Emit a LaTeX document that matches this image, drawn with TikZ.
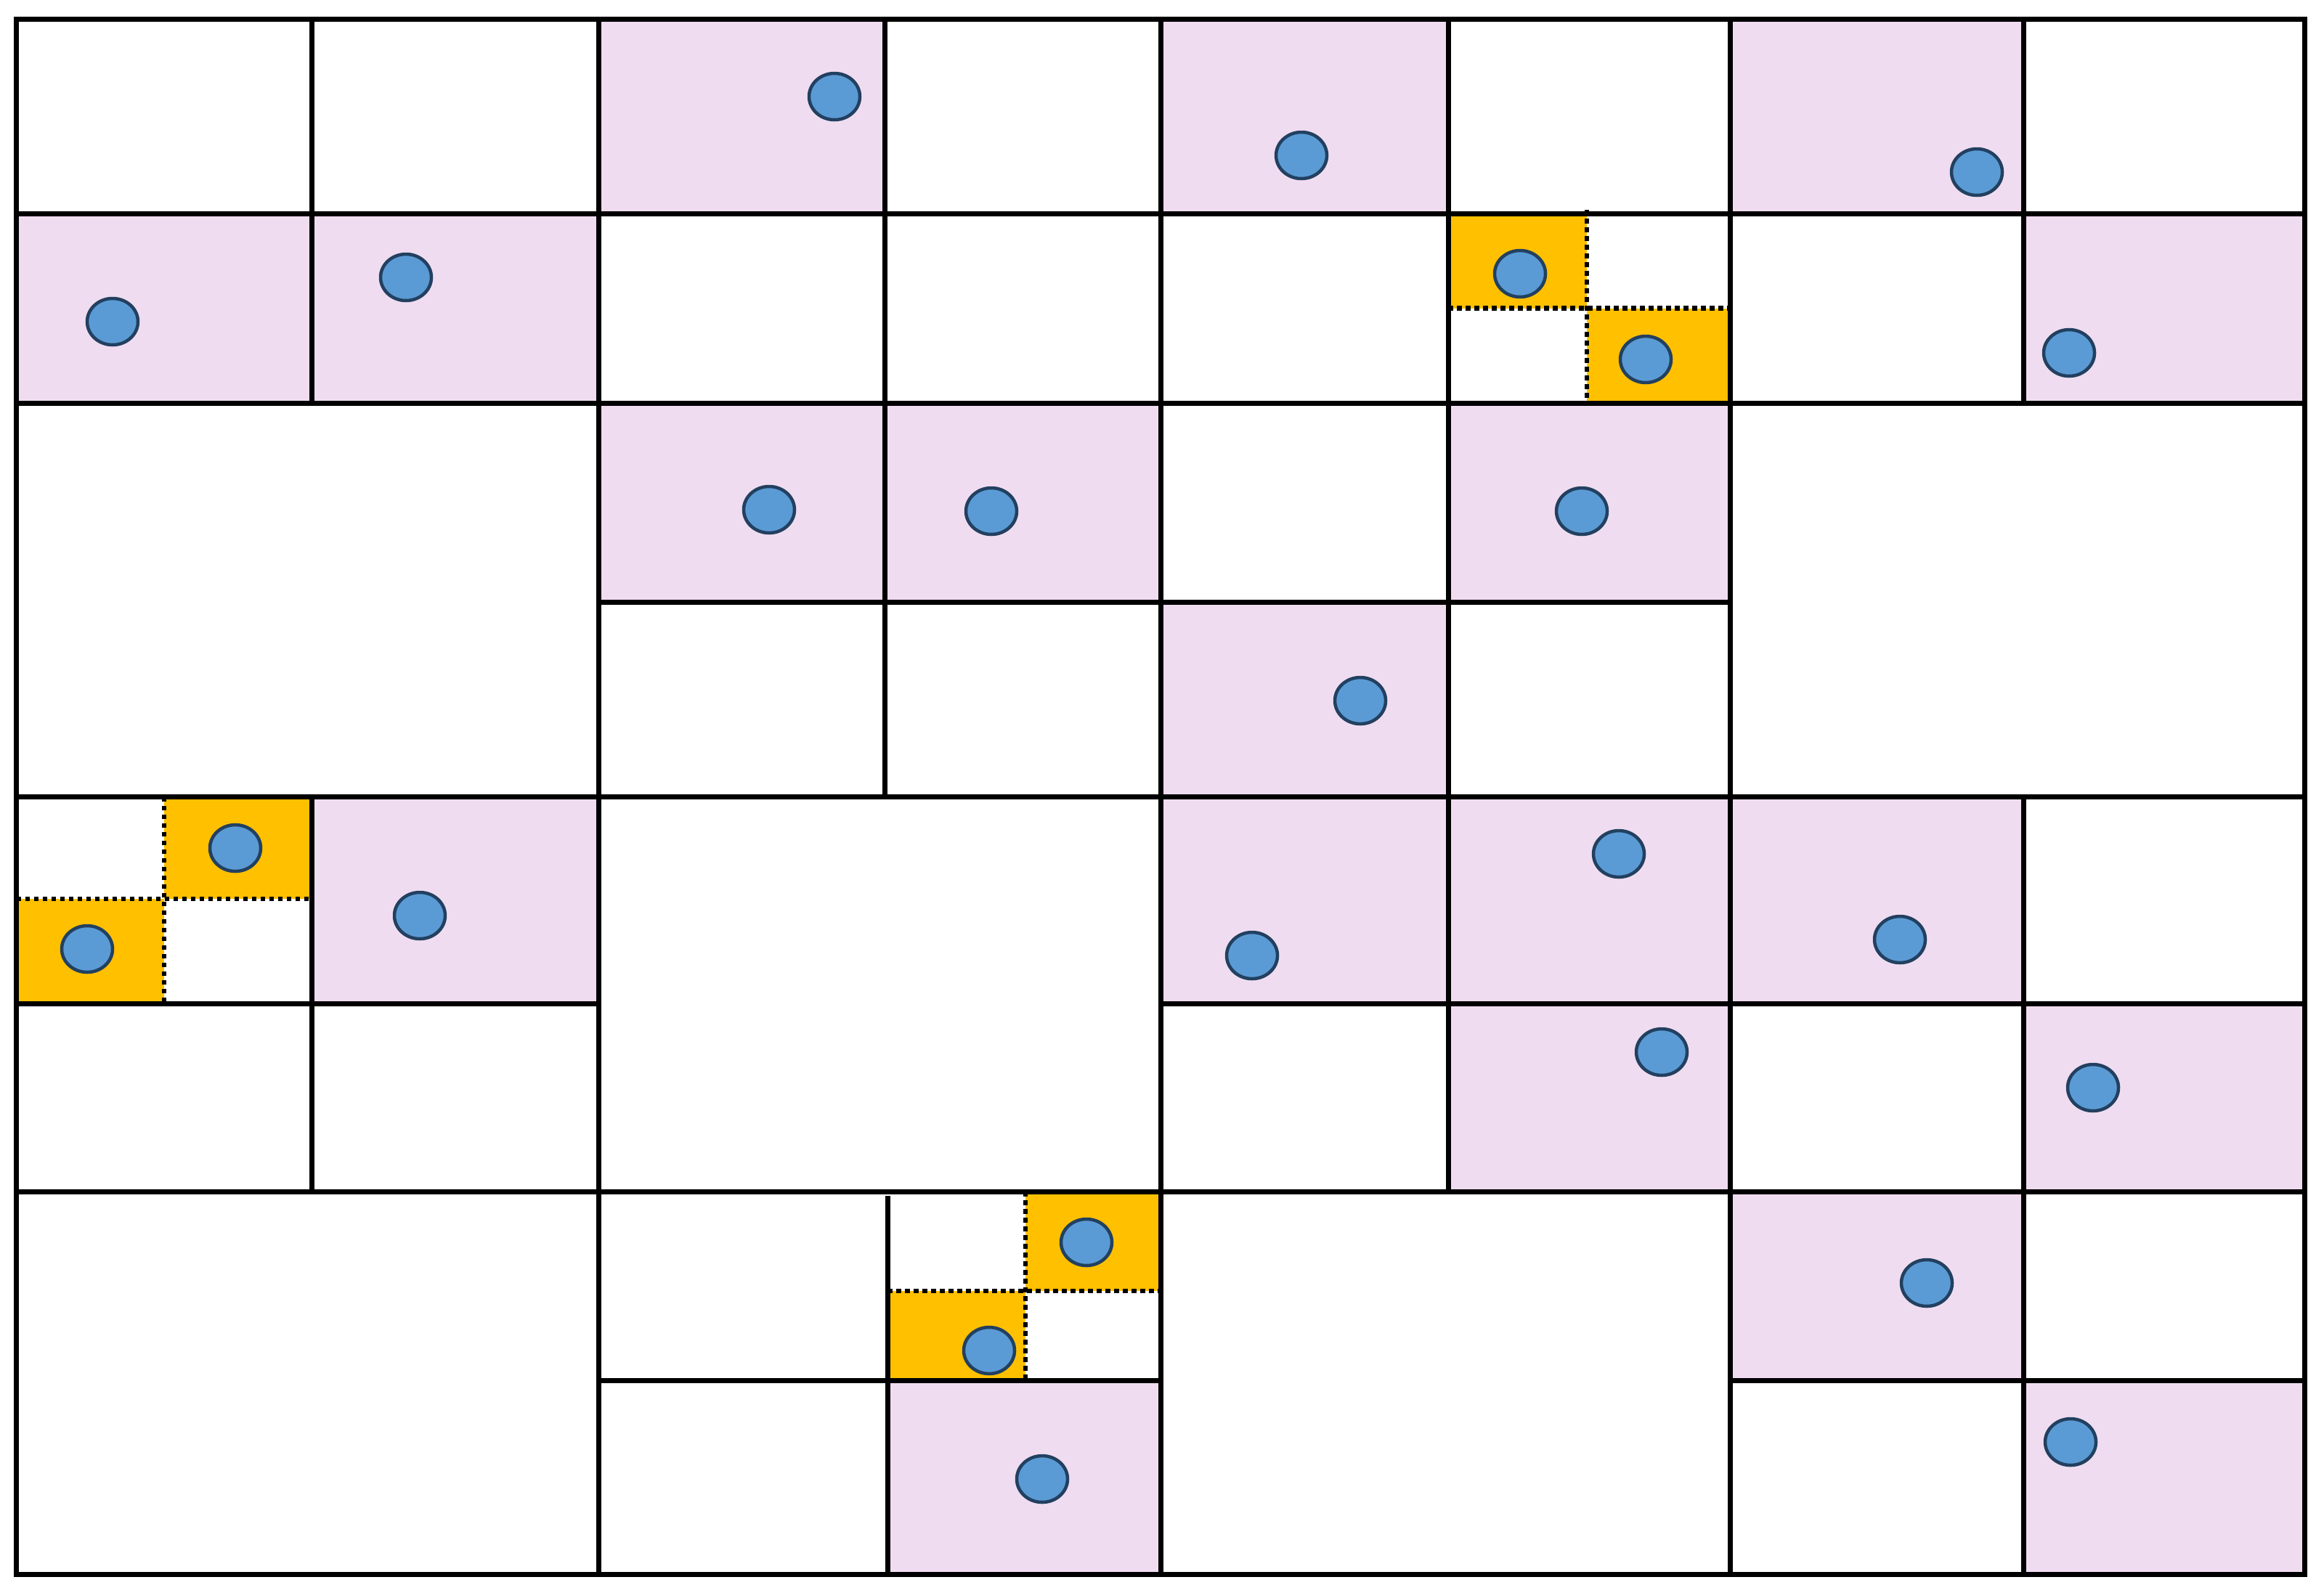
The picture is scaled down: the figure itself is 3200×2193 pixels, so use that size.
\documentclass[tikz,border=0pt]{standalone}
\usetikzlibrary{calc}
\definecolor{cellpink}{RGB}{240,220,240}
\definecolor{cellorange}{RGB}{255,192,0}
\definecolor{dotfill}{RGB}{91,155,213}
\definecolor{dotline}{RGB}{34,64,96}
\tikzset{
  gridline/.style={line width=0.07cm, black, line cap=rect},
  splitline/.style={line width=0.067cm, black, dash pattern=on 0.067cm off 0.053cm},
  pinkcell/.style={fill=cellpink},
  orangecell/.style={fill=cellorange},
  bluedot/.style={fill=dotfill, draw=dotline, line width=0.045cm},
}
\begin{document}
\begin{tikzpicture}[x=0.01cm,y=-0.01cm]
\useasboundingbox (0,0) rectangle (3200,2193);
\fill[white] (0,0) rectangle (3200,2193);
% vertical positions
\def\Va{22.5}\def\Vb{429}\def\Vc{824}\def\Vd{1218}\def\Ve{1598}\def\Vf{1994}\def\Vg{2382}\def\Vh{2786}\def\Vi{3173}
\def\Ha{26.5}\def\Hb{294.5}\def\Hc{555}\def\Hd{829}\def\He{1097.5}\def\Hf{1382}\def\Hg{1641}\def\Hh{1901}\def\Hi{2168}
% pink cells
\fill[pinkcell] (\Vc,\Ha) rectangle (\Vd,\Hb);
\fill[pinkcell] (\Ve,\Ha) rectangle (\Vf,\Hb);
\fill[pinkcell] (\Vg,\Ha) rectangle (\Vh,\Hb);
\fill[pinkcell] (\Va,\Hb) rectangle (\Vb,\Hc);
\fill[pinkcell] (\Vb,\Hb) rectangle (\Vc,\Hc);
\fill[pinkcell] (\Vh,\Hb) rectangle (\Vi,\Hc);
\fill[pinkcell] (\Vc,\Hc) rectangle (\Vd,\Hd);
\fill[pinkcell] (\Vd,\Hc) rectangle (\Ve,\Hd);
\fill[pinkcell] (\Vf,\Hc) rectangle (\Vg,\Hd);
\fill[pinkcell] (\Ve,\Hd) rectangle (\Vf,\He);
\fill[pinkcell] (\Vb,\He) rectangle (\Vc,\Hf);
\fill[pinkcell] (\Ve,\He) rectangle (\Vf,\Hf);
\fill[pinkcell] (\Vf,\He) rectangle (\Vg,\Hf);
\fill[pinkcell] (\Vg,\He) rectangle (\Vh,\Hf);
\fill[pinkcell] (\Vf,\Hf) rectangle (\Vg,\Hg);
\fill[pinkcell] (\Vh,\Hf) rectangle (\Vi,\Hg);
\fill[pinkcell] (\Vg,\Hg) rectangle (\Vh,\Hh);
\fill[pinkcell] (1222,\Hh) rectangle (\Ve,\Hi);
\fill[pinkcell] (\Vh,\Hh) rectangle (\Vi,\Hi);
% orange quarter cells
\fill[orangecell] (\Vf,\Hb) rectangle (2185,424.5);
\fill[orangecell] (2185,424.5) rectangle (\Vg,\Hc);
\fill[orangecell] (226,\He) rectangle (\Vb,1238);
\fill[orangecell] (\Va,1238) rectangle (226,\Hf);
\fill[orangecell] (1412,\Hg) rectangle (\Ve,1778);
\fill[orangecell] (1222,1778) rectangle (1412,\Hh);
% dotted split lines
\draw[splitline] (2185,289) -- (2185,\Hc);
\draw[splitline] (\Vf,424.5) -- (\Vg,424.5);
\draw[splitline] (226,\He) -- (226,\Hf);
\draw[splitline] (\Va,1238) -- (\Vb,1238);
\draw[splitline] (1412,\Hg) -- (1412,\Hh);
\draw[splitline] (1222,1778) -- (1603,1778);
% grid lines
\draw[gridline, line join=miter] (\Va,\Ha) rectangle (\Vi,\Hi);
\draw[gridline] (\Va,\Hb) -- (\Vi,\Hb);
\draw[gridline] (\Va,\Hc) -- (\Vi,\Hc);
\draw[gridline] (\Vc,\Hd) -- (\Vg,\Hd);
\draw[gridline] (\Va,\He) -- (\Vi,\He);
\draw[gridline] (\Va,\Hf) -- (\Vc,\Hf);
\draw[gridline] (\Ve,\Hf) -- (\Vi,\Hf);
\draw[gridline] (\Va,\Hg) -- (\Vi,\Hg);
\draw[gridline] (\Vc,\Hh) -- (\Ve,\Hh);
\draw[gridline] (\Vg,\Hh) -- (\Vi,\Hh);
\draw[gridline] (\Vb,\Ha) -- (\Vb,\Hc);
\draw[gridline] (\Vb,\He) -- (\Vb,\Hg);
\draw[gridline] (\Vc,\Ha) -- (\Vc,\Hi);
\draw[gridline] (\Vd,\Ha) -- (\Vd,\He);
\draw[gridline] (1222,1650) -- (1222,\Hi);
\draw[gridline] (\Ve,\Ha) -- (\Ve,\Hi);
\draw[gridline] (\Vf,\Ha) -- (\Vf,\Hg);
\draw[gridline] (\Vg,\Ha) -- (\Vg,\Hi);
\draw[gridline] (\Vh,\Ha) -- (\Vh,\Hc);
\draw[gridline] (\Vh,\He) -- (\Vh,\Hi);
% blue dots
\foreach \cx/\cy in {1149/133, 1792/214, 2722/237, 155/443, 559/382, 2093/377, 2266/495, 2849/486,
  1059/702, 1365/704, 2178/704, 1873/965, 324/1168, 120/1307, 578/1261, 1724/1316, 2229/1176,
  2616/1294, 2288/1449, 2882/1498, 1496/1711, 1362/1860, 1435/2037, 2653/1767, 2851/1986}
  \draw[bluedot] (\cx,\cy) ellipse [x radius=35, y radius=32];
\end{tikzpicture}
\end{document}
